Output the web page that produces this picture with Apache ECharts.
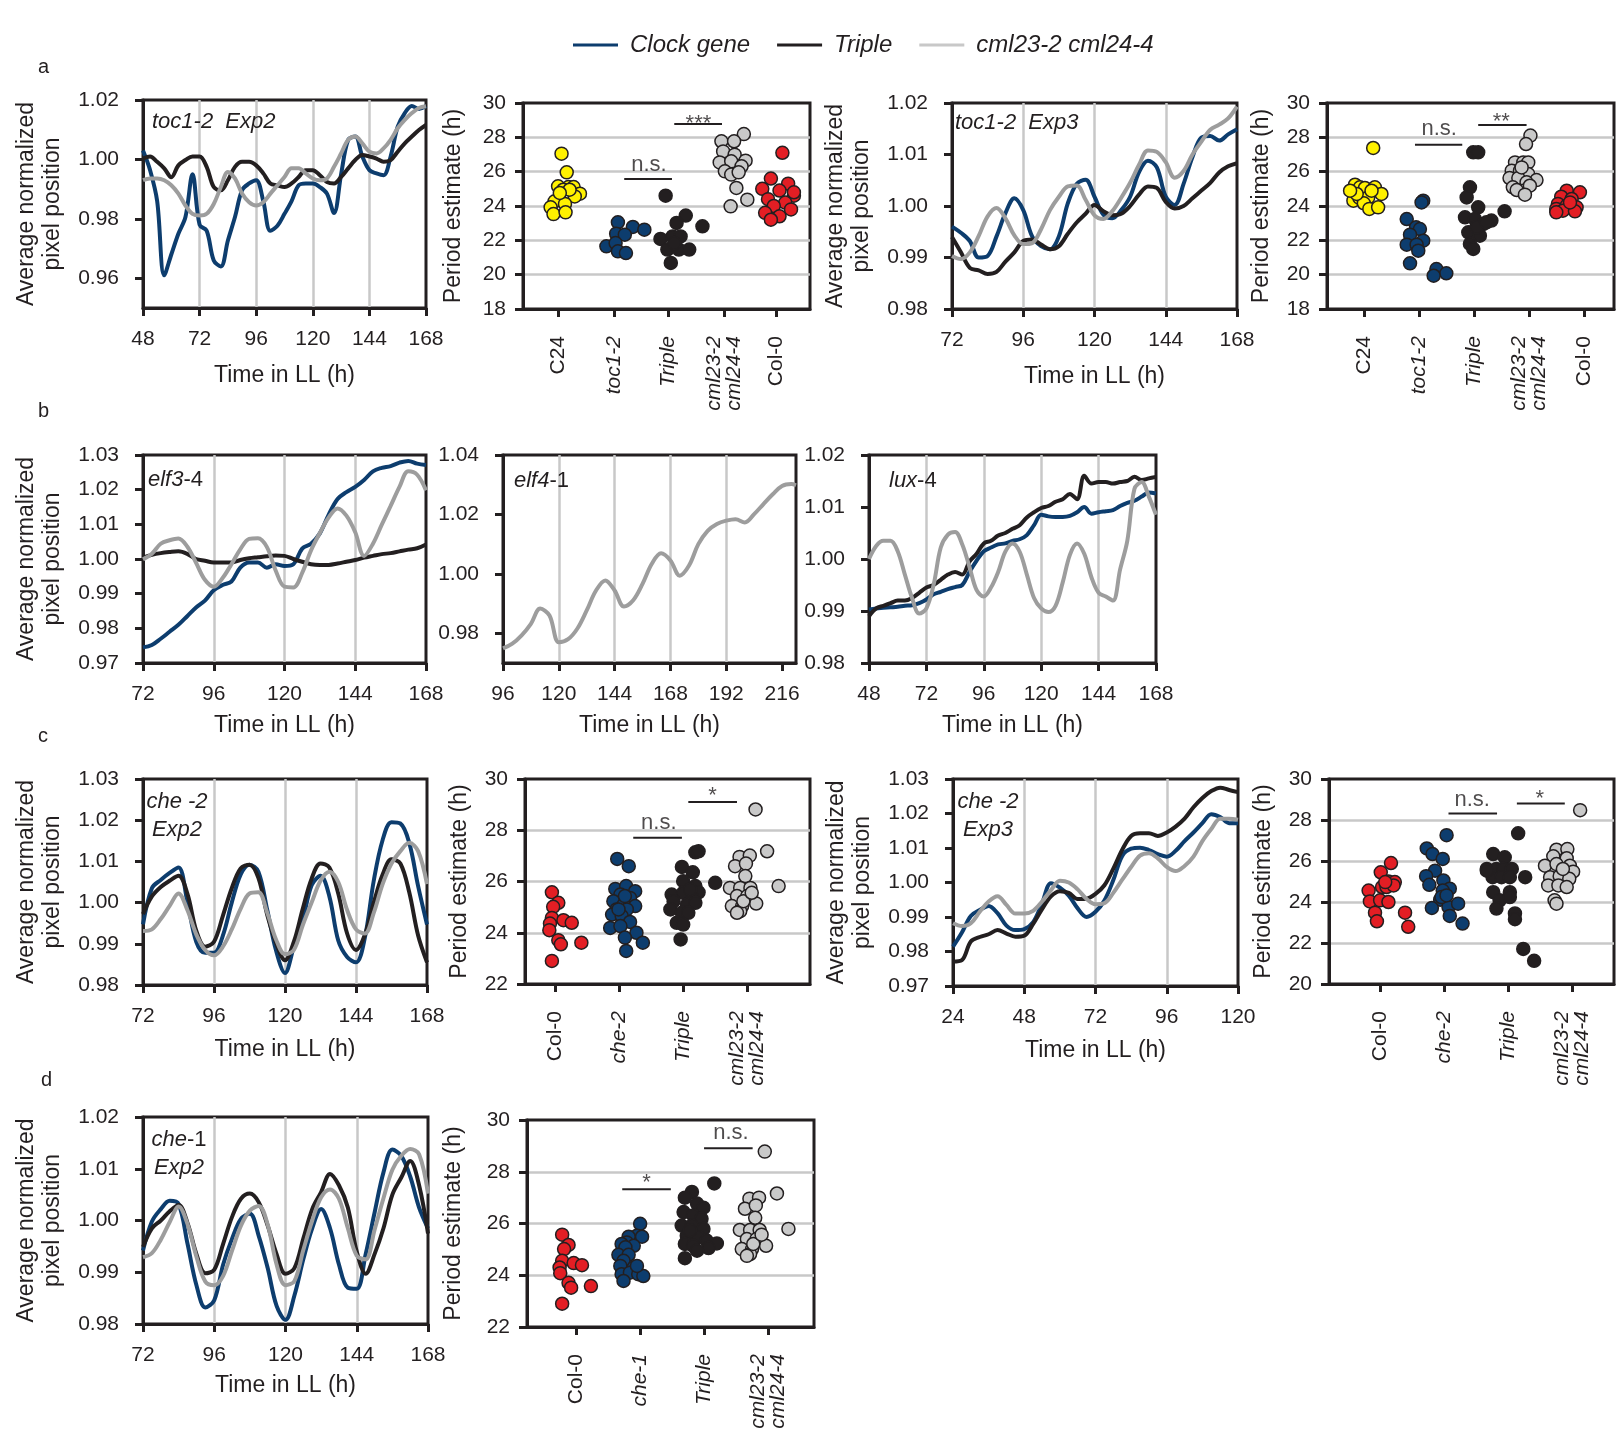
<!DOCTYPE html>
<html><head><meta charset="utf-8">
<script src="https://cdn.jsdelivr.net/npm/echarts@6/dist/echarts.min.js"></script>
<style>html,body{margin:0;padding:0;background:#fff}#c{width:1619px;height:1437px}</style>
</head><body><div id="c"></div>
<script>
// ---------------- DATA ----------------
const legendNames = ['Clock gene', 'Triple', 'cml23-2 cml24-4'];

const hours48to168 = [48,51,54,57,60,63,66,69,72,75,78,81,84,87,90,93,96,99,102,105,108,111,114,117,120,123,126,129,132,135,138,141,144,147,150,153,156,159,162,165,168];
const hours72to168 = [72,75,78,81,84,87,90,93,96,99,102,105,108,111,114,117,120,123,126,129,132,135,138,141,144,147,150,153,156,159,162,165,168];
const hours24to120 = [24,27,30,33,36,39,42,45,48,51,54,57,60,63,66,69,72,75,78,81,84,87,90,93,96,99,102,105,108,111,114,117,120];
const hours96to222 = [96,100,104,108,112,116,120,124,128,132,136,140,144,148,152,156,160,164,168,172,176,180,184,188,192,196,200,204,208,212,216,220,222];

// a: toc1-2 Exp2
const a1Clock = [1.003,0.9964,0.986,0.961,0.968,0.975,0.9806,0.995,0.978,0.976, 0.966,0.964,0.9727,0.9806,0.9896,0.9919,0.993,0.986,0.976,0.9777, 0.9817,0.986,0.9913,0.9919,0.9919,0.9907,0.9885,0.982,0.995,1.0066, 1.0077,1.001,0.9964,0.9953,0.9947,1.001,1.011,1.0156,1.018,1.017, 1.018];
const a1Triple = [1.0003,1.001,0.9992,0.997,0.994,0.998,0.9998,1.001,1.001,0.9975, 0.9907,0.9896,0.993,0.9975,0.9992,0.9992,0.998,0.9953,0.9919,0.9913, 0.9907,0.9919,0.9941,0.9964,0.9964,0.9947,0.9924,0.9919,0.9941,0.997, 0.9998,1.0015,1.001,1.0003,0.9992,0.9998,1.0026,1.0054,1.0077,1.0099, 1.0116];
const a1Cml = [0.993,0.9936,0.9936,0.993,0.9913,0.9885,0.9845,0.9817,0.9811,0.9817, 0.985,0.9907,0.9958,0.9936,0.9885,0.9856,0.9845,0.9856,0.9885,0.9913, 0.9941,0.997,0.997,0.9953,0.9936,0.993,0.9936,0.9975,1.002,1.0066, 1.0077,1.0054,1.0026,1.002,1.0037,1.0066,1.0105,1.0133,1.0156,1.0173, 1.0179];
// a: toc1-2 Exp3
const a3Clock = [0.996,0.9948,0.9932,0.990,0.9903,0.9941,0.9986,1.0015,0.9992,0.9941, 0.9922,0.9916,0.9941,1.0005,1.0043,1.0051,1.0018,0.9983,0.9976,0.9992, 1.0018,1.0066,1.0088,1.0075,1.0018,1.0002,1.0043,1.0095,1.0133,1.0136, 1.0127,1.0139,1.0149];
const a3Triple = [0.994,0.991,0.988,0.9875,0.9868,0.9872,0.9892,0.991,0.9932,0.9935, 0.9925,0.9916,0.9922,0.9946,0.9968,0.9985,1.0002,0.999,0.9982,0.9985, 1.0,1.0022,1.0038,1.0035,1.0008,0.9995,1.0,1.0015,1.003,1.0045, 1.0065,1.0077,1.0083];
const a3Cml = [0.9903,0.9897,0.991,0.9942,0.998,0.9996,0.9976,0.9943,0.9926,0.9928, 0.9955,0.9992,1.0018,1.0038,1.004,1.0012,0.9982,0.9975,0.999,1.0016, 1.0045,1.008,1.0108,1.0105,1.0085,1.0055,1.0068,1.01,1.0125,1.0148, 1.0158,1.017,1.0193];
// b: elf3-4
const b1Clock = [0.9745,0.9752,0.977,0.979,0.981,0.9835,0.986,0.988,0.991,0.9925, 0.9935,0.9975,0.999,0.999,0.9975,0.9985,0.998,0.9985,1.003,1.0044, 1.0074,1.0128,1.0173,1.0193,1.0208,1.0228,1.0253,1.0263,1.0268,1.0278, 1.0283,1.0275,1.0271];
const b1Triple = [1.0004,1.0012,1.0017,1.002,1.0022,1.0015,1.0,0.9995,0.999,0.999, 0.999,0.9997,1.0002,1.0005,1.0008,1.001,1.0009,1.0,0.9992,0.9985, 0.9983,0.9983,0.9987,0.9992,0.9997,1.0004,1.0009,1.0014,1.0017,1.0022, 1.0027,1.0031,1.0042];
const b1Cml = [0.9999,1.0015,1.0044,1.0054,1.0059,1.0036,0.9989,0.994,0.992,0.9945, 0.9985,1.0028,1.0058,1.006,1.0035,0.9967,0.992,0.9918,0.996,1.0025, 1.0075,1.012,1.0146,1.0125,1.0077,1.0009,1.0044,1.0099,1.0153,1.0208, 1.0253,1.0243,1.0198];
// b: elf4-1
const b2Cml = [0.9749,0.9765,0.9793,0.9832,0.9883,0.986,0.977,0.978,0.9816,0.9877, 0.9944,0.9978,0.9944,0.989,0.9911,0.9966,1.0034,1.0069,1.0045,0.9994, 1.0028,1.01,1.0145,1.0168,1.0179,1.0184,1.0173,1.0201,1.0235,1.0268, 1.0296,1.0302,1.0298];
// b: lux-4
const b3Clock = [0.9903,0.9905,0.9906,0.9907,0.9908,0.991,0.9911,0.9915,0.9922,0.9932, 0.9937,0.9942,0.9946,0.995,0.9975,0.9997,1.0015,1.0022,1.0028,1.003, 1.0035,1.0038,1.0046,1.0065,1.0085,1.0082,1.0081,1.0081,1.0083,1.009, 1.01,1.0087,1.009,1.0092,1.0094,1.0102,1.0108,1.0112,1.012,1.0128, 1.0126];
const b3Triple = [0.989,0.9905,0.991,0.9915,0.992,0.992,0.9925,0.9935,0.9945,0.995, 0.996,0.997,0.9975,0.997,0.9995,1.001,1.003,1.0035,1.0045,1.005, 1.0058,1.0065,1.008,1.009,1.0098,1.0102,1.011,1.0115,1.0125,1.0115, 1.016,1.0145,1.0148,1.0148,1.0145,1.0148,1.015,1.0158,1.0152,1.0155, 1.0158];
const b3Cml = [1.0,1.0025,1.0035,1.0035,1.0015,0.997,0.9925,0.9895,0.9905,0.995, 1.0022,1.0047,1.0052,1.0028,0.9985,0.994,0.9928,0.9945,0.9975,1.0014, 1.003,1.0014,0.997,0.9925,0.9905,0.9898,0.991,0.9955,1.0008,1.003, 1.001,0.9965,0.9935,0.9928,0.992,0.998,1.0035,1.0135,1.0148,1.012, 1.0085];
// c: che-2 Exp2
const c1Clock = [0.9947,1.0035,1.0055,1.0072,1.0085,1.0002,0.9905,0.9878,0.9878,0.992, 1.0,1.0068,1.0092,1.0075,0.9982,0.9883,0.9829,0.9893,0.9957,1.0042, 1.0065,1.0015,0.9908,0.9868,0.9855,0.9915,1.0053,1.0152,1.0195,1.0192, 1.0145,1.004,0.9947];
const c1Triple = [0.9972,1.0015,1.0038,1.0053,1.0065,1.0022,0.9932,0.9893,0.9905,0.9968, 1.0035,1.0083,1.0092,1.006,0.997,0.9902,0.986,0.9905,0.9985,1.0058, 1.0095,1.0085,1.0022,0.9925,0.9885,0.9922,1.0,1.0068,1.0105,1.0095, 1.0025,0.992,0.9855];
const c1Cml = [0.9931,0.9935,0.996,0.9992,1.0022,0.9982,0.9923,0.9885,0.9872,0.9893, 0.9935,0.9985,1.0022,1.0025,0.9975,0.991,0.9875,0.9885,0.9945,1.0, 1.0053,1.0075,1.005,0.9982,0.9935,0.9925,0.9975,1.0045,1.0095,1.0125, 1.0145,1.0125,1.0045];
// c: che-2 Exp3
const c3Clock = [0.9814,0.9855,0.9903,0.992,0.9932,0.9911,0.9875,0.9862,0.9865,0.9885, 0.994,0.9998,0.9985,0.9962,0.9925,0.99,0.9915,0.9948,1.0007,1.0077, 1.0098,1.0101,1.0094,1.0082,1.0075,1.0092,1.012,1.0145,1.0172,1.0198, 1.019,1.0172,1.0172];
const c3Triple = [0.9771,0.9775,0.9829,0.9842,0.985,0.9862,0.9852,0.9843,0.9846,0.988, 0.9923,0.996,0.9975,0.997,0.9952,0.9953,0.9967,0.9992,1.004,1.0095, 1.0135,1.0143,1.0143,1.0135,1.0145,1.0162,1.0185,1.0218,1.0245,1.0265, 1.0275,1.0268,1.0262];
const c3Cml = [0.9882,0.9874,0.9882,0.9915,0.9945,0.996,0.9935,0.991,0.991,0.9918, 0.9945,0.9978,1.0005,1.0,0.998,0.9952,0.9937,0.994,0.997,1.0008, 1.0045,1.0078,1.0085,1.007,1.0045,1.0033,1.0048,1.0075,1.012,1.0155, 1.0185,1.0185,1.0182];
// d: che-1 Exp2
const d1Clock = [0.9942,0.9998,1.0022,1.0038,1.0032,0.9955,0.9875,0.9832,0.9846,0.9915, 0.9965,1.0003,1.0013,0.997,0.9908,0.9835,0.9808,0.9855,0.9925,0.9985, 1.0022,0.9985,0.9915,0.987,0.9868,0.9935,1.0015,1.0093,1.0137,1.0125, 1.0085,1.0025,0.9985];
const d1Triple = [0.9949,0.9985,1.0,1.0018,1.003,0.9995,0.9935,0.9898,0.9905,0.9955, 1.0007,1.0042,1.0052,1.0035,0.999,0.9935,0.9897,0.9908,0.9965,1.0022, 1.0055,1.009,1.0068,1.0025,0.994,0.9897,0.9935,0.9985,1.005,1.0083, 1.0115,1.0068,0.9975];
const d1Cml = [0.9929,0.9937,0.9963,0.9997,1.0027,0.9993,0.993,0.9882,0.9875,0.9893, 0.9942,0.999,1.0019,1.0028,0.9992,0.9915,0.9875,0.9883,0.9943,1.0, 1.0045,1.006,1.0042,0.9985,0.9932,0.9925,0.9982,1.0043,1.0098,1.0125, 1.0138,1.0128,1.0052];

// y tick labels of the line panels
const yTicksA1 = [0.96, 0.98, 1.00, 1.02];
const yTicksA3 = [0.98, 0.99, 1.00, 1.01, 1.02];
const yTicksB1 = [0.97, 0.98, 0.99, 1.00, 1.01, 1.02, 1.03];
const yTicksB2 = [0.98, 1.00, 1.02, 1.04];
const yTicksB3 = [0.98, 0.99, 1.00, 1.01, 1.02];
const yTicksC1 = [0.98, 0.99, 1.00, 1.01, 1.02, 1.03];
const yTicksC3 = [0.97, 0.98, 0.99, 1.00, 1.01, 1.02, 1.03];
const yTicksD1 = [0.98, 0.99, 1.00, 1.01, 1.02];
const xTicksB2 = [96, 120, 144, 168, 192, 216];

// period estimate categories
const catsA = ['C24', 'toc1-2', 'Triple', 'cml23-2\ncml24-4', 'Col-0'];
const catsC = ['Col-0', 'che-2', 'Triple', 'cml23-2\ncml24-4'];
const catsD = ['Col-0', 'che-1', 'Triple', 'cml23-2\ncml24-4'];
const uprightLabels = ['C24', 'Col-0'];

// period estimates (h) and horizontal jitter (category units)
const a2C24 = [27.05,25.96,25.15,25.1,25.1,24.95,24.72,24.56,24.27,24.12,23.92,23.53,23.63,24.95,24.76];
const a2C24Jitter = [0.06,0.15,0,0.18,0.27,0.09,0.38,0.29,-0.06,0.12,-0.13,-0.08,0.13,0.2,0.03];
const a2Toc = [23.05,22.78,22.62,22.39,22.33,21.65,21.84,21.36,21.26];
const a2TocJitter = [0.04,0.3,0.5,0.01,0.16,-0.16,0,0.04,0.18];
const a2Triple = [24.6,23.44,23.01,22.82,22.08,22.23,22.23,21.46,21.46,21.46,20.68,21.84];
const a2TripleJitter = [-0.13,0.22,0.06,0.51,-0.22,-0.01,0.13,-0.1,0.1,0.28,-0.04,0.02];
const a2Cml = [28.19,27.77,27.77,27.18,26.99,26.64,26.54,26.6,26.31,26.02,25.83,25.96,25.05,24.37,23.98];
const a2CmlJitter = [0.23,-0.16,0.06,-0.13,0.07,0.26,-0.19,0.01,0.19,-0.1,0.01,0.14,0.1,0.29,0];
const a2Col = [27.1,25.6,25.3,25.0,24.9,24.6,24.4,24.2,24.0,23.8,23.6,23.4,23.2,24.8];
const a2ColJitter = [-0.1,-0.3,0.0,-0.45,-0.15,0.1,-0.35,-0.05,-0.25,0.05,-0.4,-0.15,-0.3,0.1];

const a4C24 = [27.38,25.24,25.09,25.05,25.09,24.7,24.31,24.47,24.5,24.16,23.83,23.92,24.7,24.89,24.89];
const a4C24Jitter = [0.17,-0.16,-0.07,0.02,0.2,0.32,-0.19,-0.08,0.08,0,0.1,0.26,-0.13,-0.25,0.14];
const a4Toc = [24.31,23.24,22.76,22.66,22.33,21.98,21.75,21.75,21.4,20.66,20.33,20.08,19.94,24.21];
const a4TocJitter = [0.08,-0.22,-0.05,0.02,-0.16,0.08,-0.22,-0.04,-0.01,-0.16,0.32,0.5,0.27,0.05];
const a4Triple = [27.13,27.13,25.09,24.5,23.92,23.69,23.34,23.24,23.15,22.95,22.47,22.27,21.79,21.5,22.76,23.05];
const a4TripleJitter = [-0.01,0.08,-0.07,-0.13,0.08,0.56,-0.16,0.02,0.32,0.17,-0.1,0.11,-0.07,-0.01,0.05,0.23];
const a4Cml = [28.1,27.61,26.54,26.54,26.54,26.06,26.06,25.86,25.51,25.63,25.63,25.38,25.09,24.89,24.93,25.18,24.66,26.25];
const a4CmlJitter = [0.03,-0.05,-0.25,-0.1,-0.01,-0.31,-0.16,-0.01,0.14,-0.35,-0.19,-0.04,-0.29,-0.1,-0.22,0.02,-0.07,-0.13];
const a4Col = [24.89,24.8,24.54,24.41,24.12,24.02,23.92,23.83,23.73,23.69,24.21,23.63];
const a4ColJitter = [-0.31,-0.07,-0.41,-0.22,-0.47,-0.31,-0.13,-0.5,-0.38,-0.16,-0.25,-0.5];

const c2Col = [25.58,25.17,25.01,24.58,24.49,24.39,24.36,24.1,23.71,23.55,23.61,22.9];
const c2ColJitter = [-0.05,0.05,-0.03,-0.05,0.13,0.26,-0.08,-0.09,0.05,0.09,0.41,-0.05];
const c2Che = [26.88,26.6,25.71,25.82,25.62,25.49,25.36,25.23,25.1,25.04,24.91,24.91,24.71,24.65,24.42,24.19,24.26,24.0,23.81,23.61,23.29,24.91,25.43];
const c2CheJitter = [-0.03,0.15,-0.06,0.11,0.25,0.02,0.17,-0.09,0.07,0.25,-0.04,0.12,-0.11,0.04,0.17,-0.14,0.02,0.27,0.09,0.37,0.11,-0.01,0.09];
const c2Triple = [27.14,27.18,26.57,26.36,26.01,25.82,25.49,25.56,25.58,25.36,25.23,25.1,25.17,24.91,24.78,24.78,24.39,24.32,23.74,25.95,25.69];
const c2TripleJitter = [0.19,0.24,-0.02,0.15,0,0.19,-0.18,0,0.24,0.14,-0.15,0.06,0.19,-0.2,-0.02,0.08,-0.1,0,-0.04,0.5,0.11];
const c2Cml = [28.81,27.18,26.96,27.01,26.6,26.7,26.21,25.75,25.75,25.75,25.43,25.43,25.04,25.04,25.14,24.84,24.78,25.82,25.23,25.56];
const c2CmlJitter = [0.13,0.31,-0.12,0.04,-0.19,-0.02,-0.03,-0.27,-0.11,0.05,-0.16,0,-0.24,-0.08,0.14,-0.11,-0.16,0.49,-0.06,0.07];

const c4Col = [25.9,25.45,24.56,25.0,24.97,24.73,24.73,24.03,24.08,24.0,23.48,23.06,23.48,22.79,24.81,24.97];
const c4ColJitter = [0.17,0.01,-0.18,0.13,0.23,0.03,0.1,-0.16,0,0.13,-0.08,-0.05,0.39,0.44,0.21,0.08];
const c4Che = [27.26,26.61,26.34,26.1,25.53,25.26,25.05,24.84,24.65,24.56,24.11,23.71,23.76,23.92,23.32,22.95,24.24,24.32];
const c4CheJitter = [0.04,-0.27,-0.18,-0.02,-0.14,-0.28,-0.01,-0.23,0.09,-0.02,-0.06,-0.19,0.07,0.22,0.09,0.29,-0.04,0.04];
const c4Triple = [27.35,26.34,26.18,25.61,25.61,25.61,25.61,25.21,25.21,25.21,25.21,24.48,24.48,24.08,24.24,23.68,23.44,23.16,21.71,21.13,25.53];
const c4TripleJitter = [0.16,-0.23,-0.05,-0.33,-0.18,-0.07,0.06,-0.24,-0.1,0.03,0.27,-0.23,0.03,-0.13,0.03,-0.18,0.11,0.11,0.24,0.41,-0.33];
const c4Cml = [28.48,26.55,26.58,26.23,26.13,25.77,25.85,25.77,25.48,25.21,25.26,25.13,24.81,24.81,24.73,24.08,23.92,25.61];
const c4CmlJitter = [0.13,-0.24,-0.07,-0.29,-0.08,-0.42,-0.24,-0.03,0.02,-0.34,-0.19,-0.04,-0.37,-0.21,-0.08,-0.27,-0.24,-0.14];

const d2Col = [25.57,25.17,25.01,24.56,24.47,24.39,24.3,24.08,23.71,23.52,23.58,22.9];
const d2ColJitter = [-0.22,-0.12,-0.19,-0.22,-0.04,0.09,-0.26,-0.25,-0.12,-0.08,0.23,-0.22];
const d2Che = [25.99,25.53,25.49,25.49,25.27,25.21,25.14,25.08,24.79,24.79,24.56,24.36,24.3,24.04,24.1,24.04,23.97,23.78,24.36];
const d2CheJitter = [0,-0.05,0.03,-0.18,-0.21,-0.29,-0.1,-0.23,-0.34,-0.18,-0.26,-0.31,-0.1,-0.29,-0.16,-0.03,0.05,-0.26,-0.05];
const d2Triple = [27.55,27.22,27.0,26.77,26.61,26.44,26.31,26.18,25.92,25.92,25.79,25.53,25.47,25.34,25.23,25.21,25.14,25.05,24.66,24.95,25.73];
const d2TripleJitter = [0.16,-0.19,-0.3,-0.11,-0.01,-0.32,-0.17,-0.04,-0.35,-0.19,-0.01,-0.27,-0.09,0.04,0.2,-0.3,-0.17,0.07,-0.3,-0.11,-0.22];
const d2Cml = [28.78,27.16,26.96,27.0,26.57,26.7,26.22,25.75,25.75,25.75,25.4,25.4,25.01,25.01,25.14,24.82,24.75,25.79,25.21,25.57];
const d2CmlJitter = [-0.05,0.14,-0.29,-0.14,-0.36,-0.19,-0.2,-0.44,-0.28,-0.13,-0.33,-0.18,-0.41,-0.25,-0.03,-0.28,-0.33,0.32,-0.23,-0.1];

// significance brackets: [fromCategory, toCategory, bracketHeight(h), text, textCategory, textHeight(h)]
const a2Sig = [[1.15, 1.98, 25.57, 'n.s.', 1.58, 26.4], [2.02, 2.85, 28.78, '***', 2.44, 28.78]];
const a4Sig = [[0.93, 1.79, 27.57, 'n.s.', 1.37, 28.5], [2.08, 2.96, 28.72, '**', 2.5, 28.92]];
const c2Sig = [[1.22, 1.98, 27.71, 'n.s.', 1.62, 28.27], [2.08, 2.84, 29.1, '*', 2.46, 29.32]];
const c4Sig = [[1.07, 1.83, 28.32, 'n.s.', 1.44, 29.0], [2.14, 2.89, 28.81, '*', 2.5, 29.05]];
const d2Sig = [[0.72, 1.48, 27.32, '*', 1.1, 27.58], [2.0, 2.76, 28.91, 'n.s.', 2.42, 29.5]];

// ---------------- CHART ----------------
const FONT = '"Liberation Sans", Arial, Helvetica, sans-serif';
const INK = '#231f20', NAVY = '#0d3d6e', GRAYLINE = '#9d9d9d', GRAYDOT = '#c9c9c9',
      YEL = '#fff100', RED = '#e31e24', GRIDC = '#c8c8c8';

const grids = [], xAxes = [], yAxes = [], series = [];
const axisLineStyle = {show: true, onZero: false, lineStyle: {color: INK, width: 3}};

function addGrid(r) {
  grids.push({left: r[0], top: r[1], width: r[2], height: r[3], show: true,
    borderWidth: 3, borderColor: INK, backgroundColor: 'transparent', containLabel: false});
  return grids.length - 1;
}

function linePanel(r, xMin, xMax, xTicks, yMin, yMax, yTicks, lines, xGap, withYName) {
  const g = addGrid(r);
  const xa = {gridIndex: g, type: 'value', min: xMin, max: xMax, interval: 24,
    axisLine: axisLineStyle,
    axisTick: {show: true, length: 8, lineStyle: {color: INK, width: 3}},
    axisLabel: {fontSize: 21, color: INK, margin: 21, fontFamily: FONT},
    splitLine: {show: true, showMinLine: false, showMaxLine: false, lineStyle: {color: GRIDC, width: 2.5}},
    name: 'Time in LL (h)', nameLocation: 'middle', nameGap: xGap,
    nameTextStyle: {fontSize: 23, color: INK, fontFamily: FONT}};
  if (xTicks) { xa.axisTick.customValues = xTicks; xa.axisLabel.customValues = xTicks; }
  xAxes.push(xa);
  const ya = {gridIndex: g, type: 'value', min: yMin, max: yMax,
    axisLine: axisLineStyle,
    axisTick: {show: true, length: 8, customValues: yTicks, lineStyle: {color: INK, width: 3}},
    axisLabel: {customValues: yTicks, formatter: v => v.toFixed(2), fontSize: 21, color: INK, margin: 24, fontFamily: FONT},
    splitLine: {show: false}};
  if (withYName) {
    ya.name = 'Average normalized\npixel position';
    ya.nameLocation = 'middle'; ya.nameRotate = 90; ya.nameGap = 77;
    ya.nameTextStyle = {fontSize: 23, color: INK, fontFamily: FONT, lineHeight: 26};
  }
  yAxes.push(ya);
  lines.forEach(([name, times, vals, color]) => {
    series.push({type: 'line', name, xAxisIndex: g, yAxisIndex: g,
      data: times.map((t, i) => [t, vals[i]]), symbol: 'none', showSymbol: false,
      smooth: 0.35, clip: true, lineStyle: {color, width: 4}, itemStyle: {color},
      silent: true, z: 3});
  });
}

function catLabel(txt) {
  const italic = uprightLabels.indexOf(txt) < 0;
  return txt.split('\n').map(s => (italic ? '{i|' : '{n|') + s + '}').join('\n');
}

function dotPanel(r, xMin, xMax, cats, tickPos, yMin, yMax, groups, sigs, yGap) {
  const g = addGrid(r);
  xAxes.push({gridIndex: g, type: 'value', min: xMin, max: xMax,
    axisLine: axisLineStyle,
    axisTick: {show: true, length: 8, customValues: tickPos, lineStyle: {color: INK, width: 3}},
    axisLabel: {customValues: tickPos, rotate: 90, margin: 27,
      formatter: v => catLabel(cats[Math.round(v)] || ''),
      rich: {i: {fontSize: 21, fontStyle: 'italic', color: INK, fontFamily: FONT, lineHeight: 20},
             n: {fontSize: 21, color: INK, fontFamily: FONT, lineHeight: 20}}},
    splitLine: {show: false}});
  yAxes.push({gridIndex: g, type: 'value', min: yMin, max: yMax, interval: 2,
    axisLine: axisLineStyle,
    axisTick: {show: true, length: 8, lineStyle: {color: INK, width: 3}},
    axisLabel: {fontSize: 21, color: INK, margin: 17, fontFamily: FONT},
    splitLine: {show: true, showMinLine: false, showMaxLine: false, lineStyle: {color: GRIDC, width: 2.5}},
    name: 'Period estimate (h)', nameLocation: 'middle', nameRotate: 90, nameGap: yGap,
    nameTextStyle: {fontSize: 23, color: INK, fontFamily: FONT}});
  groups.forEach(([cat, vals, jit, fill]) => {
    series.push({type: 'scatter', name: 'dots', xAxisIndex: g, yAxisIndex: g,
      data: vals.map((v, i) => [cat + jit[i], v]), symbolSize: 13,
      itemStyle: {color: fill, borderColor: INK, borderWidth: 1.5, opacity: 1}, silent: true, z: 3});
  });
  sigs.forEach(([x1, x2, y, txt, tx, ty]) => {
    series.push({type: 'line', name: 'bracket', xAxisIndex: g, yAxisIndex: g,
      data: [[x1, y], [x2, y]], symbol: 'none', lineStyle: {color: INK, width: 2}, silent: true, z: 4});
    series.push({type: 'scatter', name: 'sig', xAxisIndex: g, yAxisIndex: g,
      data: [[tx, ty]], symbolSize: 1, itemStyle: {color: 'rgba(0,0,0,0)'}, silent: true, z: 4,
      label: {show: true, position: 'inside', formatter: txt, fontSize: 22, color: INK, fontFamily: FONT}});
  });
}

const L = legendNames;
// row a
linePanel([143, 100, 283, 208], 48, 168, null, 0.95, 1.02, yTicksA1,
  [[L[0], hours48to168, a1Clock, NAVY], [L[1], hours48to168, a1Triple, INK], [L[2], hours48to168, a1Cml, GRAYLINE]], 56, true);
dotPanel([523, 103, 287, 206], -0.61, 4.38, catsA, [0, 0.97, 1.92, 2.89, 3.8], 18, 30,
  [[0, a2C24, a2C24Jitter, YEL], [1, a2Toc, a2TocJitter, NAVY], [2, a2Triple, a2TripleJitter, INK],
   [3, a2Cml, a2CmlJitter, GRAYDOT], [4, a2Col, a2ColJitter, RED]], a2Sig, 58);
linePanel([952, 103, 285, 206], 72, 168, null, 0.98, 1.02, yTicksA3,
  [[L[0], hours72to168, a3Clock, NAVY], [L[1], hours72to168, a3Triple, INK], [L[2], hours72to168, a3Cml, GRAYLINE]], 56, true);
dotPanel([1327, 103, 287, 206], -0.67, 4.55, catsA, [0, 1, 2, 3, 4], 18, 30,
  [[0, a4C24, a4C24Jitter, YEL], [1, a4Toc, a4TocJitter, NAVY], [2, a4Triple, a4TripleJitter, INK],
   [3, a4Cml, a4CmlJitter, GRAYDOT], [4, a4Col, a4ColJitter, RED]], a4Sig, 54);
// row b
linePanel([143, 455, 283, 208], 72, 168, null, 0.97, 1.03, yTicksB1,
  [[L[0], hours72to168, b1Clock, NAVY], [L[1], hours72to168, b1Triple, INK], [L[2], hours72to168, b1Cml, GRAYLINE]], 51, true);
linePanel([503, 455, 293, 208], 96, 222, xTicksB2, 0.97, 1.04, yTicksB2,
  [[L[2], hours96to222, b2Cml, GRAYLINE]], 51, false);
linePanel([869, 455, 287, 208], 48, 168, null, 0.98, 1.02, yTicksB3,
  [[L[0], hours48to168, b3Clock, NAVY], [L[1], hours48to168, b3Triple, INK], [L[2], hours48to168, b3Cml, GRAYLINE]], 51, false);
// row c
linePanel([143, 779, 284, 206], 72, 168, null, 0.98, 1.03, yTicksC1,
  [[L[0], hours72to168, c1Clock, NAVY], [L[1], hours72to168, c1Triple, INK], [L[2], hours72to168, c1Cml, GRAYLINE]], 53, true);
dotPanel([525, 779, 285, 205], -0.47, 3.98, catsC, [0, 1, 2, 3], 22, 30,
  [[0, c2Col, c2ColJitter, RED], [1, c2Che, c2CheJitter, NAVY], [2, c2Triple, c2TripleJitter, INK],
   [3, c2Cml, c2CmlJitter, GRAYDOT]], c2Sig, 54);
linePanel([953, 779, 285, 207], 24, 120, null, 0.97, 1.03, yTicksC3,
  [[L[0], hours24to120, c3Clock, NAVY], [L[1], hours24to120, c3Triple, INK], [L[2], hours24to120, c3Cml, GRAYLINE]], 53, true);
dotPanel([1329, 779, 285, 205], -0.8, 3.66, catsC, [0, 1, 2, 3], 20, 30,
  [[0, c4Col, c4ColJitter, RED], [1, c4Che, c4CheJitter, NAVY], [2, c4Triple, c4TripleJitter, INK],
   [3, c4Cml, c4CmlJitter, GRAYDOT]], c4Sig, 54);
// row d
linePanel([143, 1117, 285, 207], 72, 168, null, 0.98, 1.02, yTicksD1,
  [[L[0], hours72to168, d1Clock, NAVY], [L[1], hours72to168, d1Triple, INK], [L[2], hours72to168, d1Cml, GRAYLINE]], 50, true);
dotPanel([527, 1120, 287, 207], -0.77, 3.72, catsD, [0, 1, 2, 3], 22, 30,
  [[0, d2Col, d2ColJitter, RED], [1, d2Che, d2CheJitter, NAVY], [2, d2Triple, d2TripleJitter, INK],
   [3, d2Cml, d2CmlJitter, GRAYDOT]], d2Sig, 62);

const richT = {i: {fontSize: 22, fontStyle: 'italic', fill: INK, fontFamily: FONT, lineHeight: 28},
               n: {fontSize: 22, fill: INK, fontFamily: FONT, lineHeight: 28}};
function label(x, y, text, align, size) {
  return {type: 'text', x, y, silent: true, z: 50,
    style: {text, fontSize: size || 22, fontFamily: FONT, fill: INK, align: align || 'left',
            verticalAlign: 'top', rich: richT, lineHeight: 28}};
}

const option = {
  animation: false,
  backgroundColor: '#ffffff',
  textStyle: {fontFamily: FONT},
  legend: {top: 28, left: 568, icon: 'rect', itemWidth: 45, itemHeight: 3, itemGap: 27, selectedMode: false,
    textStyle: {fontSize: 24, fontStyle: 'italic', color: INK, fontFamily: FONT, padding: [0, 0, 0, 7]},
    data: [{name: L[0]}, {name: L[1]}, {name: L[2], itemStyle: {color: GRIDC}}]},
  grid: grids, xAxis: xAxes, yAxis: yAxes, series,
  graphic: [
    label(38, 53, 'a', 'left', 20), label(38, 397, 'b', 'left', 20),
    label(38, 722, 'c', 'left', 20), label(41, 1066, 'd', 'left', 20),
    label(152, 108, '{i|toc1-2  Exp2}'),
    label(955, 109, '{i|toc1-2  Exp3}'),
    label(148, 466, '{i|elf3}{n|-4}'),
    label(514, 467, '{i|elf4}{n|-1}'),
    label(889, 467, '{i|lux}{n|-4}'),
    label(177, 788, '{i|che -2}\n{i|Exp2}', 'center'),
    label(988, 788, '{i|che -2}\n{i|Exp3}', 'center'),
    label(179, 1126, '{i|che}{n|-1}\n{i|Exp2}', 'center')
  ]
};
const chart = echarts.init(document.getElementById('c'), null, {renderer: 'canvas'});
chart.setOption(option);
</script></body></html>
